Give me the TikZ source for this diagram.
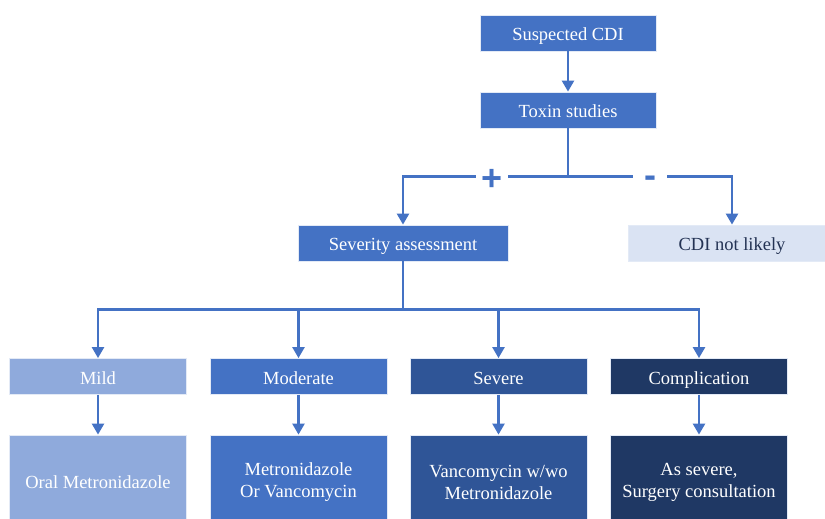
\documentclass[tikz,border=0pt]{standalone}
\usepackage{fontspec}
\setmainfont{Liberation Serif}
\newfontfamily\signfont{Liberation Sans}
\usetikzlibrary{arrows.meta}
\definecolor{cblue}{HTML}{4472C4}
\definecolor{clight}{HTML}{8FAADC}
\definecolor{cmid}{HTML}{2F5597}
\definecolor{cdark}{HTML}{1F3864}
\definecolor{cpale}{HTML}{DAE3F3}
\definecolor{ctext}{HTML}{243354}
\tikzset{
  box/.style={draw=white!85!cblue, line width=0.8pt, text=white, align=center,
    font=\fontsize{18.5}{22}\selectfont, inner sep=0pt},
  top/.style={box, fill=cblue, minimum width=176pt, minimum height=36pt,
    text height=15pt, text depth=0pt},
  lvl/.style={box, minimum width=177pt, minimum height=36pt,
    text height=15pt, text depth=0pt},
  res/.style={box, minimum width=177pt, minimum height=94pt},
  conn/.style={cblue, line width=2.4pt},
  arr/.style={conn, -{Triangle[width=12pt,length=11pt]}},
  sign/.style={fill=white, text=cblue, font=\signfont\bfseries\fontsize{36}{36}\selectfont,
    inner ysep=0pt, minimum height=22pt}
}
\begin{document}
\begin{tikzpicture}[x=1pt,y=-1pt]
\clip (0,0) rectangle (825,519);
\fill[white] (0,0) rectangle (825,519);
\node[top] (susp) at (568,33) {Suspected CDI};
\node[top] (tox) at (568,110) {Toxin studies};
\node[top, minimum width=210pt] (sev) at (403,243) {Severity assessment};
\node[top, fill=cpale, text=ctext, minimum width=208pt] (cdi) at (732,243) {CDI not likely};
\node[lvl, fill=clight] (mild) at (98,376.5) {Mild};
\node[lvl, fill=cblue] (mod) at (298.5,376.5) {Moderate};
\node[lvl, fill=cmid] (sevr) at (498.5,376.5) {Severe};
\node[lvl, fill=cdark] (comp) at (699,376.5) {Complication};
\node[res, fill=clight] (r1) at (98,482) {Oral Metronidazole};
\node[res, fill=cblue] (r2) at (298.5,482) {Metronidazole\\Or Vancomycin};
\node[res, fill=cmid] (r3) at (498.5,482) {Vancomycin w/wo\\Metronidazole};
\node[res, fill=cdark] (r4) at (699,482) {As severe,\\Surgery consultation};
\draw[arr] (susp) -- (tox);
\draw[conn] (tox.south) -- ++(0,48) coordinate (br);
\draw[arr] (br) -| (sev.north);
\draw[arr] (br) -| (cdi.north);
\node[sign, inner xsep=5pt] (plus) at (492,180) {+};
\node[sign, inner xsep=11pt] (minus) at (650,182) {-};
\draw[conn] (sev.south) -- ++(0,48) coordinate (b2);
\draw[arr] (b2) -| (mild.north);
\draw[arr] (b2) -| (mod.north);
\draw[arr] (b2) -| (sevr.north);
\draw[arr] (b2) -| (comp.north);
\draw[arr] (mild) -- (r1);
\draw[arr] (mod) -- (r2);
\draw[arr] (sevr) -- (r3);
\draw[arr] (comp) -- (r4);
\end{tikzpicture}
\end{document}
